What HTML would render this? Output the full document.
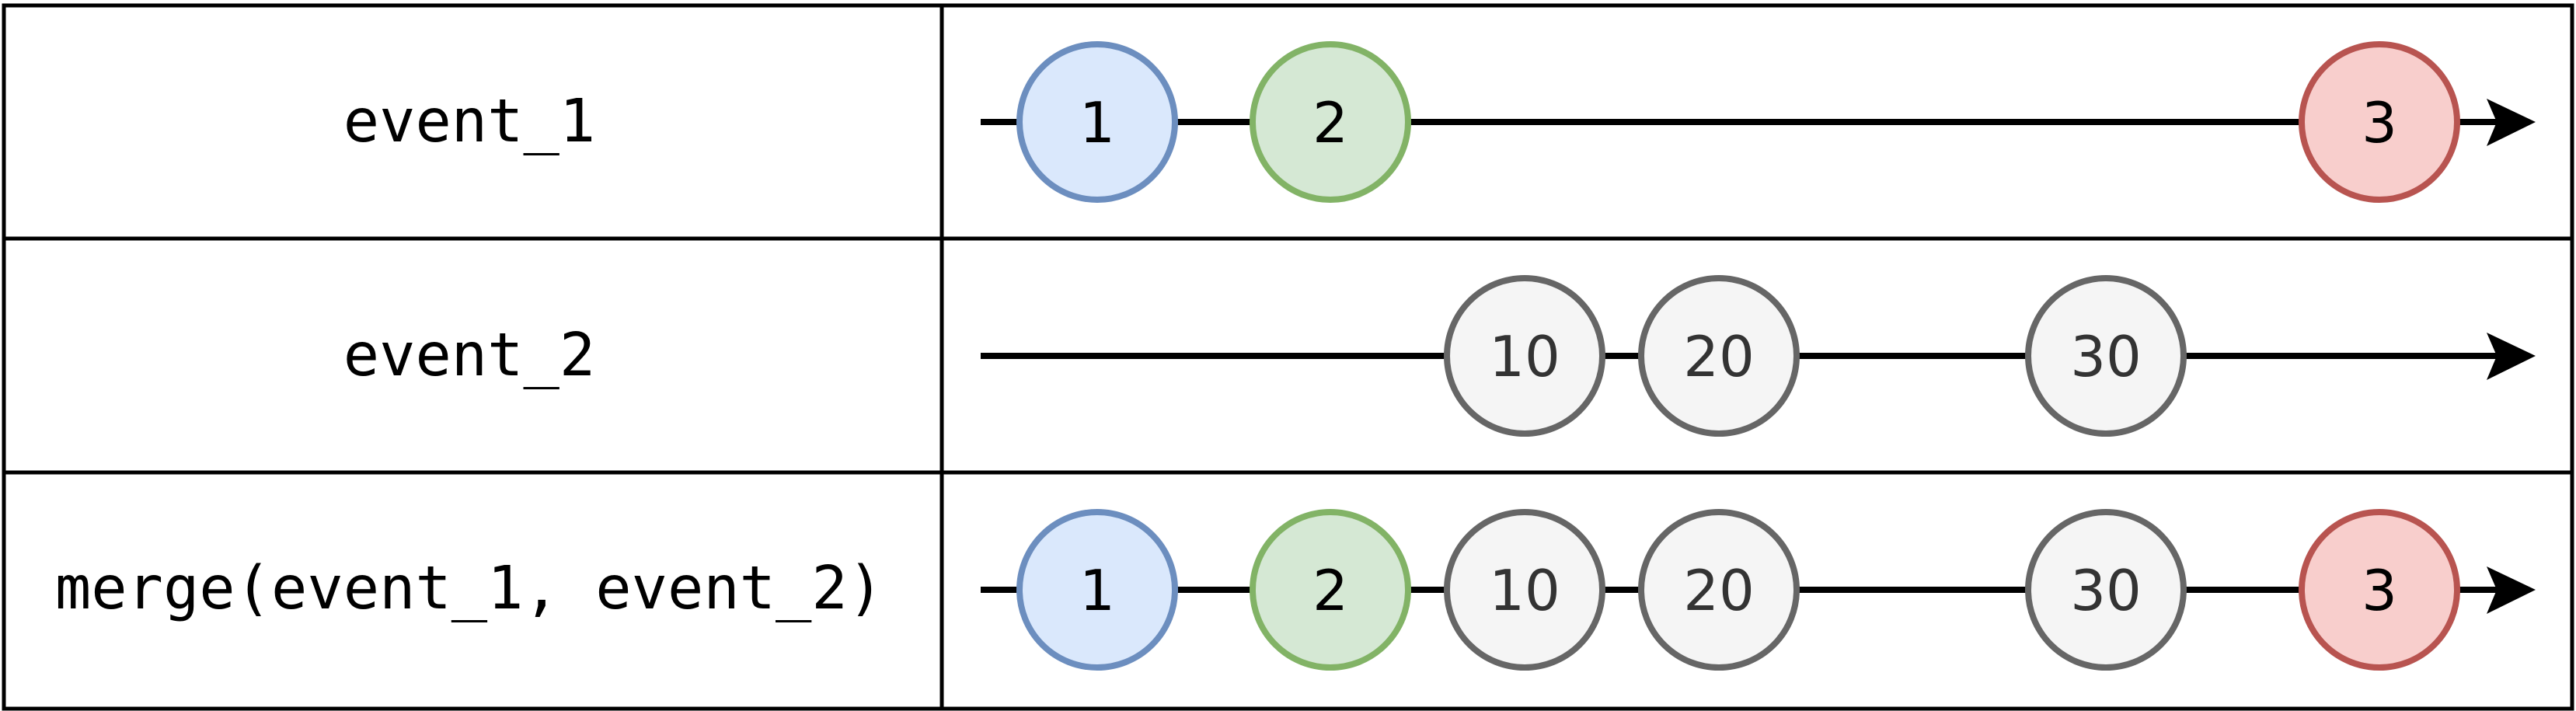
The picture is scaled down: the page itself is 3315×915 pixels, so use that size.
<!DOCTYPE html>
<html><head><meta charset="utf-8"><style>html,body{margin:0;padding:0;background:#fff;width:3315px;height:915px;overflow:hidden}</style></head>
<body>
<svg width="3315" height="915" viewBox="0 0 3315 915" xmlns="http://www.w3.org/2000/svg">
<rect x="0" y="0" width="3315" height="915" fill="#fff"/>
<g stroke="#000" stroke-width="5" fill="none">
<rect x="5" y="7" width="3305" height="905"/>
<line x1="1212" y1="7" x2="1212" y2="912"/>
<line x1="5" y1="307" x2="3310" y2="307"/>
<line x1="5" y1="608" x2="3310" y2="608"/>
</g>
<g font-family="'DejaVu Sans Mono','Liberation Mono',monospace" font-size="77" text-anchor="middle" fill="#000">
<text x="604" y="182">event_1</text>
<text x="604" y="483">event_2</text>
<text x="604" y="783">merge(event_1, event_2)</text>
</g>
<g stroke="#000" stroke-width="8">
<line x1="1262" y1="157" x2="3215" y2="157"/>
<line x1="1262" y1="458" x2="3215" y2="458"/>
<line x1="1262" y1="759" x2="3215" y2="759"/>
</g>
<g fill="#000">
<polygon points="3200,127 3263,157 3200,188 3213,157"/>
<polygon points="3200,428 3263,458 3200,489 3213,458"/>
<polygon points="3200,729 3263,759 3200,790 3213,759"/>
</g>
<g stroke-width="8" font-family="'DejaVu Sans','Liberation Sans',sans-serif" font-size="72" text-anchor="middle">
<circle cx="1412" cy="157" r="100" fill="#dae8fc" stroke="#6c8ebf"/>
<circle cx="1712" cy="157" r="100" fill="#d5e8d4" stroke="#82b366"/>
<circle cx="3062" cy="157" r="100" fill="#f8cecc" stroke="#b85450"/>
<circle cx="1962" cy="458" r="100" fill="#f5f5f5" stroke="#666"/>
<circle cx="2212" cy="458" r="100" fill="#f5f5f5" stroke="#666"/>
<circle cx="2710" cy="458" r="100" fill="#f5f5f5" stroke="#666"/>
<circle cx="1412" cy="759" r="100" fill="#dae8fc" stroke="#6c8ebf"/>
<circle cx="1712" cy="759" r="100" fill="#d5e8d4" stroke="#82b366"/>
<circle cx="1962" cy="759" r="100" fill="#f5f5f5" stroke="#666"/>
<circle cx="2212" cy="759" r="100" fill="#f5f5f5" stroke="#666"/>
<circle cx="2710" cy="759" r="100" fill="#f5f5f5" stroke="#666"/>
<circle cx="3062" cy="759" r="100" fill="#f8cecc" stroke="#b85450"/>
<g stroke="none" fill="#000">
<text x="1412" y="183">1</text><text x="1712" y="183">2</text><text x="3062" y="183">3</text>
</g>
<g stroke="none" fill="#333">
<text x="1962" y="484">10</text><text x="2212" y="484">20</text><text x="2710" y="484">30</text>
<text x="1962" y="785">10</text><text x="2212" y="785">20</text><text x="2710" y="785">30</text>
</g>
<g stroke="none" fill="#000">
<text x="1412" y="785">1</text><text x="1712" y="785">2</text><text x="3062" y="785">3</text>
</g>
</g>
</svg>
</body></html>
